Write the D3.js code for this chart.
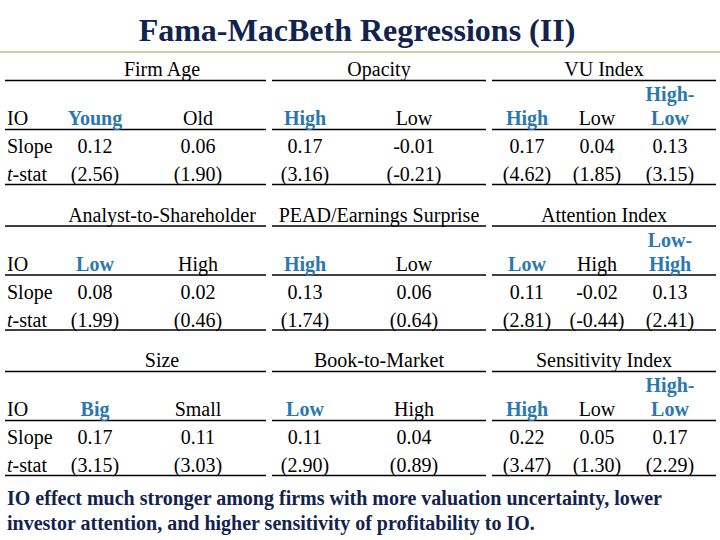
<!DOCTYPE html>
<meta charset="utf-8">
<style>
body { margin: 0; background: #fff; }
</style>
<body>
<script src="https://d3js.org/d3.v7.min.js"></script>
<div id="chart"></div>
<script>

// table content
var title = "Fama-MacBeth Regressions (II)";
var rowLabels = ["IO", "Slope", "t-stat"];
var groupNames = [
  ["Firm Age", "Opacity", "VU Index"],
  ["Analyst-to-Shareholder", "PEAD/Earnings Surprise", "Attention Index"],
  ["Size", "Book-to-Market", "Sensitivity Index"]
];
var colLabels = [
  [["Young", "Old"], ["High", "Low"], ["High", "Low", "High-Low"]],
  [["Low", "High"], ["High", "Low"], ["Low", "High", "Low-High"]],
  [["Big", "Small"], ["Low", "High"], ["High", "Low", "High-Low"]]
];
var slopes = [
  [[0.12, 0.06], [0.17, -0.01], [0.17, 0.04, 0.13]],
  [[0.08, 0.02], [0.13, 0.06], [0.11, -0.02, 0.13]],
  [[0.17, 0.11], [0.11, 0.04], [0.22, 0.05, 0.17]]
];
var tstats = [
  [[2.56, 1.90], [3.16, -0.21], [4.62, 1.85, 3.15]],
  [[1.99, 0.46], [1.74, 0.64], [2.81, -0.44, 2.41]],
  [[3.15, 3.03], [2.90, 0.89], [3.47, 1.30, 2.29]]
];
var note = [
  "IO effect much stronger among firms with more valuation uncertainty, lower",
  "investor attention, and higher sensitivity of profitability to IO."
];

// mise en page
var largeur = 720, hauteur = 540;
var navy = "#13234f", blue = "#2a78b0";
var serif = "'Liberation Serif', 'Times New Roman', 'DejaVu Serif', serif";
var fs = 20;
// les 3 segments de lignes + centres des colonnes
var segs = [[5, 266], [272, 486], [492, 716]];
var headCenters = [162, 379, 604];
var colCenters = [[95, 198], [305, 414], [527, 597, 670]];

var fmt = d3.formatLocale({decimal: ".", thousands: ",", grouping: [3], currency: ["", ""], minus: "-"}).format(".2f");

const svg = d3.select("#chart")
  .append("svg")
    .attr("width", largeur)
    .attr("height", hauteur)
    .attr("font-family", serif);

// titre
svg.append("text")
  .attr("x", 357)
  .attr("y", 41)
  .attr("text-anchor", "middle")
  .attr("font-size", 32)
  .attr("font-weight", "bold")
  .attr("fill", navy)
  .text(title);

svg.append("line")
  .attr("x1", 0).attr("x2", largeur)
  .attr("y1", 52).attr("y2", 52)
  .attr("stroke", "#cdcda8")
  .attr("stroke-width", 2);

// position verticale des blocs
var blockY = d3.scaleLinear().domain([0, 2]).range([76, 367]);

groupNames.forEach(function(names, b) {
  var y0 = blockY(b);
  var g = svg.append("g").attr("transform", "translate(0," + y0 + ")");

  // libellés des lignes
  g.selectAll(".rowlab")
    .data(rowLabels)
    .enter().append("text")
      .attr("x", 7)
      .attr("y", (d, i) => 49 + i * 28)
      .attr("font-size", fs)
      .each(function(d) {
        var t = d3.select(this);
        if (d === "t-stat") {
          t.append("tspan").attr("font-style", "italic").text("t");
          t.append("tspan").text("-stat");
        } else {
          t.text(d);
        }
      });

  names.forEach(function(name, gi) {
    var seg = segs[gi];
    // en-tête de groupe
    g.append("text")
      .attr("x", headCenters[gi])
      .attr("y", 0)
      .attr("text-anchor", "middle")
      .attr("font-size", fs)
      .text(name);

    [4.5, 53.5, 108.5].forEach(function(ly) {
      g.append("line")
        .attr("x1", seg[0]).attr("x2", seg[1])
        .attr("y1", ly).attr("y2", ly)
        .attr("stroke", "#000")
        .attr("stroke-width", 1.3);
    });

    colLabels[b][gi].forEach(function(lab, ci) {
      var x = colCenters[gi][ci];
      var isBlue = (ci === 0 || ci === 2);
      if (lab.indexOf("-") > 0) {
        var parts = lab.split("-");
        g.append("text")
          .attr("x", x).attr("y", 25)
          .attr("text-anchor", "middle")
          .attr("font-size", fs)
          .attr("font-weight", "bold")
          .attr("fill", blue)
          .text(parts[0] + "-");
        g.append("text")
          .attr("x", x).attr("y", 49)
          .attr("text-anchor", "middle")
          .attr("font-size", fs)
          .attr("font-weight", "bold")
          .attr("fill", blue)
          .text(parts[1]);
      } else {
        g.append("text")
          .attr("x", x).attr("y", 49)
          .attr("text-anchor", "middle")
          .attr("font-size", fs)
          .attr("font-weight", isBlue ? "bold" : "normal")
          .attr("fill", isBlue ? blue : "#000")
          .text(lab);
      }
      g.append("text")
        .attr("x", x).attr("y", 77)
        .attr("text-anchor", "middle")
        .attr("font-size", fs)
        .text(fmt(slopes[b][gi][ci]));
      g.append("text")
        .attr("x", x).attr("y", 105)
        .attr("text-anchor", "middle")
        .attr("font-size", fs)
        .text("(" + fmt(tstats[b][gi][ci]) + ")");
    });
  });
});

// note de bas de page
svg.selectAll(".note")
  .data(note)
  .enter().append("text")
    .attr("x", 7)
    .attr("y", (d, i) => 505 + i * 25)
    .attr("font-size", 20)
    .attr("font-weight", "bold")
    .attr("fill", navy)
    .text(d => d);

</script>
</body>
